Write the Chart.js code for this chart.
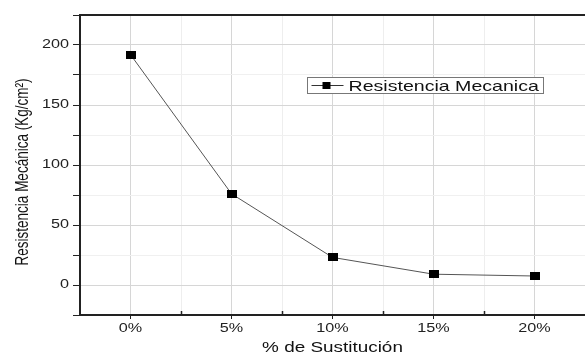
<!DOCTYPE html>
<html>
<head>
<meta charset="utf-8">
<script src="https://cdn.jsdelivr.net/npm/chart.js@4"></script>
<style>
  html, body { margin: 0; padding: 0; background: #fff; }
  #wrap { width: 585px; height: 356px; }
</style>
</head>
<body>
<div id="wrap"><canvas id="c" width="585" height="356"></canvas></div>
<script>
// Substitution percentage and mechanical strength (Kg/cm²)
const sustitucion = [0, 5, 10, 15, 20];
const resistencia = [192, 76, 23, 9, 7.5];
const xTickLabels = ['0%', '5%', '10%', '15%', '20%'];
const yTickValues = [0, 50, 100, 150, 200];
const seriesLabel = 'Resistencia Mecanica';
const xTitle = '% de Sustitución';
const yTitle = 'Resistencia Mecánica (Kg/cm²)';

const FONT = "'Liberation Sans', Arial, sans-serif";
const STRETCH = 1.35;   // wide lettering

// Slightly wide square marker
const marker = document.createElement('canvas');
marker.width = 10; marker.height = 8;
(function () {
  const m = marker.getContext('2d');
  m.fillStyle = '#000';
  m.fillRect(0, 0, 10, 8);
})();

// Text drawn with a horizontal stretch
function wideText(ctx, text, x, y, size, align, color) {
  ctx.save();
  ctx.font = size + 'px ' + FONT;
  ctx.fillStyle = color;
  ctx.textBaseline = 'middle';
  ctx.textAlign = align;
  ctx.translate(x, y);
  ctx.scale(STRETCH, 1);
  ctx.fillText(text, 0, 0);
  ctx.restore();
}

const decorPlugin = {
  id: 'decor',
  afterDraw(chart) {
    const { ctx, chartArea: a } = chart;
    const xs = chart.scales.x, ys = chart.scales.y;
    ctx.save();

    // top border
    ctx.strokeStyle = '#222';
    ctx.lineWidth = 2;
    ctx.beginPath();
    ctx.moveTo(a.left, a.top);
    ctx.lineTo(a.right, a.top);
    ctx.stroke();

    // inward minor ticks on the bottom axis
    ctx.lineWidth = 1.5;
    ctx.beginPath();
    for (let i = 0; i < sustitucion.length - 1; i++) {
      const px = Math.round(xs.getPixelForValue((sustitucion[i] + sustitucion[i + 1]) / 2)) + 0.5;
      ctx.moveTo(px, a.bottom);
      ctx.lineTo(px, a.bottom - 4);
    }
    ctx.stroke();

    // tick labels
    sustitucion.forEach((v, i) => {
      wideText(ctx, xTickLabels[i], xs.getPixelForValue(v), 329, 12, 'center', '#222');
    });
    yTickValues.forEach(v => {
      wideText(ctx, String(v), 69, ys.getPixelForValue(v), 12, 'right', '#222');
    });

    // axis titles
    wideText(ctx, xTitle, (a.left + a.right) / 2, 348, 14, 'center', '#111');
    ctx.save();
    ctx.translate(23, 172);
    ctx.rotate(-Math.PI / 2);
    ctx.scale(1, STRETCH);
    ctx.font = '13.5px ' + FONT;
    ctx.fillStyle = '#111';
    ctx.textAlign = 'center';
    ctx.textBaseline = 'middle';
    ctx.fillText(yTitle, 0, 0);
    ctx.restore();

    // legend
    const bx = 307.5, by = 77.5, bw = 236, bh = 16;
    ctx.fillStyle = '#fff';
    ctx.fillRect(bx, by, bw, bh);
    ctx.strokeStyle = '#777';
    ctx.lineWidth = 1;
    ctx.strokeRect(bx, by, bw, bh);
    const cy = by + bh / 2;
    ctx.strokeStyle = '#333';
    ctx.beginPath();
    ctx.moveTo(bx + 4, cy);
    ctx.lineTo(bx + 36, cy);
    ctx.stroke();
    ctx.fillStyle = '#000';
    ctx.fillRect(bx + 15, cy - 3.5, 8, 7);
    wideText(ctx, chart.data.datasets[0].label, bx + 41, cy + 1, 14.5, 'left', '#111');
    ctx.restore();
  }
};

new Chart(document.getElementById('c'), {
  type: 'line',
  data: {
    datasets: [{
      label: seriesLabel,
      data: sustitucion.map((x, i) => ({ x, y: resistencia[i] })),
      borderColor: '#555',
      borderWidth: 1,
      pointStyle: marker,
      pointRadius: 5,
      tension: 0
    }]
  },
  options: {
    responsive: false,
    animation: false,
    devicePixelRatio: 1,
    layout: { autoPadding: false, padding: { left: 0, top: 15, right: 0, bottom: 0 } },
    plugins: { legend: { display: false }, tooltip: { enabled: false } },
    scales: {
      x: {
        type: 'linear',
        min: -2.5,
        max: 22.5,
        afterFit(s) { s.height = 41; s.paddingLeft = 0; s.paddingRight = 0; },
        afterBuildTicks(s) {
          const t = [];
          for (let v = -2.5; v <= 22.5 + 1e-9; v += 2.5) t.push({ value: v });
          s.ticks = t;
        },
        border: { display: true, color: '#222', width: 2 },
        grid: {
          color: c => (c.tick && Math.abs(c.tick.value % 5) < 1e-6) ? '#d6d6d6' : '#eeeeee',
          tickColor: c => (c.tick && Math.abs(c.tick.value % 5) < 1e-6) ? '#222' : 'rgba(0,0,0,0)',
          tickLength: 4,
          lineWidth: 1
        },
        ticks: {
          autoSkip: false,
          maxRotation: 0,
          color: 'rgba(0,0,0,0)',
          font: { family: FONT, size: 11 },
          callback: () => ''
        }
      },
      y: {
        type: 'linear',
        min: -25,
        max: 225,
        afterFit(s) { s.width = 80; s.paddingTop = 0; s.paddingBottom = 0; },
        afterBuildTicks(s) {
          const t = [];
          for (let v = -25; v <= 225; v += 25) t.push({ value: v });
          s.ticks = t;
        },
        border: { display: true, color: '#222', width: 2 },
        grid: {
          color: c => (c.tick && c.tick.value % 50 === 0) ? '#d6d6d6' : '#f0f0f0',
          tickColor: '#222',
          tickLength: 7,
          lineWidth: 1
        },
        ticks: {
          autoSkip: false,
          color: 'rgba(0,0,0,0)',
          font: { family: FONT, size: 11 },
          callback: () => ''
        }
      }
    }
  },
  plugins: [decorPlugin]
});
</script>
</body>
</html>
